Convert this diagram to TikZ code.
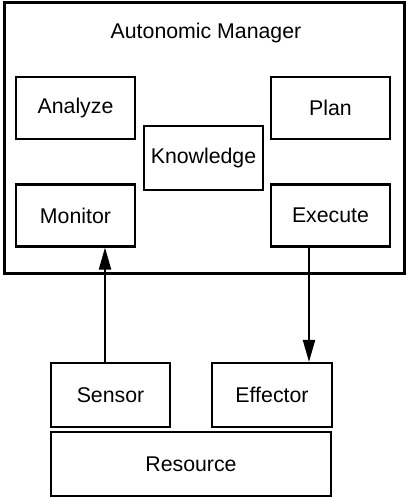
\documentclass[tikz,border=0pt]{standalone}
\usepackage{fontspec}
\setmainfont{Liberation Sans}
\usetikzlibrary{arrows.meta}
\begin{document}
\begin{tikzpicture}[x=1pt,y=-1pt,
  box/.style={draw,line width=2.1pt,inner sep=0pt},
  flow/.style={line width=2.1pt,-{Triangle[length=22pt,width=12pt]}},
  lbl/.style={font=\fontsize{21.3}{25}\selectfont}]
\useasboundingbox (0,0) rectangle (409,497);
% outer manager frame
\node[box,minimum width=400pt,minimum height=271pt] (mgr) at (204.5,138) {};
\node[lbl] (title) at (206,33) {Autonomic Manager};
% MAPE-K components
\node[box,lbl,minimum width=119pt,minimum height=62pt] (analyze) at (75.5,108) {Analyze};
\node[box,lbl,minimum width=119pt,minimum height=62pt] (monitor) at (75.5,215.5) {Monitor};
\node[box,lbl,minimum width=119pt,minimum height=64pt] (know) at (203.5,158) {Knowledge};
\node[box,lbl,minimum width=119pt,minimum height=62pt] (plan) at (330.5,108) {Plan};
\node[box,lbl,minimum width=119pt,minimum height=62pt] (exec) at (330.5,215.5) {Execute};
% managed resource side
\node[box,lbl,minimum width=119pt,minimum height=64pt] (sensor) at (110.5,395) {Sensor};
\node[box,lbl,minimum width=120pt,minimum height=64pt] (effector) at (272,395) {Effector};
\node[box,lbl,minimum width=280pt,minimum height=64pt] (resource) at (191,464) {Resource};
% connectors
\draw[flow] (sensor.north -| 105,0) -- (monitor.south -| 105,0);
\draw[flow] (exec.south -| 309,0) -- (effector.north -| 309,0);
\end{tikzpicture}
\end{document}
